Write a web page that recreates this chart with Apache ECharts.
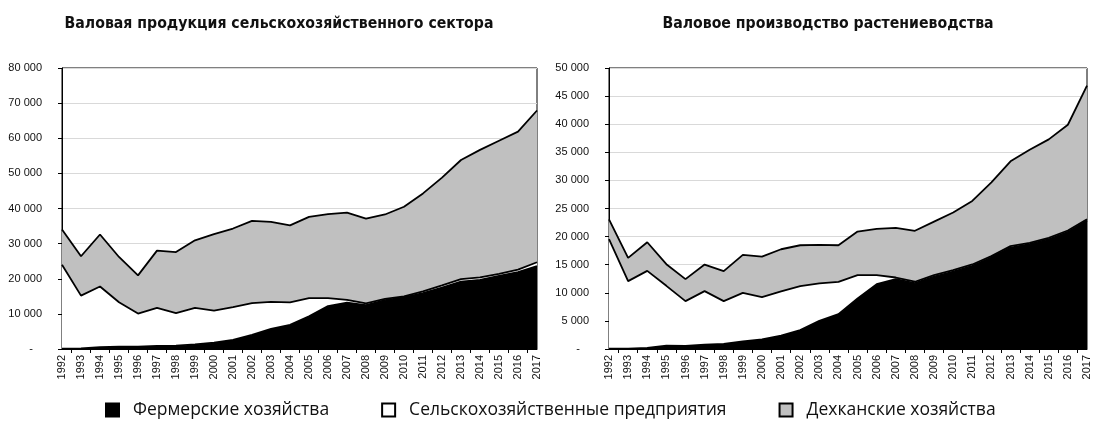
<!DOCTYPE html>
<html>
<head>
<meta charset="utf-8">
<script src="https://cdn.jsdelivr.net/npm/echarts@6/dist/echarts.min.js"></script>
<style>
  html, body { margin: 0; padding: 0; background: #fff; }
  #chart { width: 1093px; height: 421px; }
</style>
</head>
<body>
<div id="chart"></div>
<script>
// годы
var years = ['1992','1993','1994','1995','1996','1997','1998','1999','2000','2001','2002','2003','2004',
  '2005','2006','2007','2008','2009','2010','2011','2012','2013','2014','2015','2016','2017'];

// Валовая продукция сельскохозяйственного сектора
var farmAll = [100,200,500,700,700,900,950,1300,1800,2600,4000,5700,6900,9300,12200,13200,12500,13900,14700,15900,17500,19200,19700,20800,21900,23600];
var entAll = [23900,15000,17300,12600,9400,10800,9250,10400,9150,9300,9050,7700,6350,5200,2300,800,500,400,300,500,600,700,700,600,700,1100];
var dehAll = [10000,11200,14800,12900,10850,16300,17400,19250,21750,22400,23450,22800,21950,23100,23900,24800,24100,24000,25500,27900,30700,33900,36300,37900,39300,43200];

// Валовое производство растениеводства
var farmCrop = [60,60,180,590,530,770,890,1360,1720,2370,3370,5030,6200,9000,11540,12430,11720,12900,13790,14790,16270,18050,18640,19530,20830,22840];
var entCrop = [19470,12010,13720,10650,7990,9530,7630,8640,7510,7870,7810,6630,5750,4140,1600,290,250,250,250,250,250,250,250,250,250,260];
var dehCrop = [3550,4140,5100,3850,3910,4730,5330,6750,7220,7510,7280,6860,6510,7750,8220,8820,9060,9520,10240,11300,13140,15090,16560,17520,18820,23780];

var names = ['Фермерские хозяйства', 'Сельскохозяйственные предприятия', 'Дехканские хозяйства'];
var fills = ['#000000', '#ffffff', '#c0c0c0'];

// вспомогательные позиции для делений между годами
var halfYears = [];
years.forEach(function (y, i) {
  halfYears.push(y);
  if (i < years.length - 1) halfYears.push(y + '+');
});

var font = 'Liberation Sans, Arial, sans-serif';

function fmt(v) {
  if (v === 0) return '-   ';
  return String(v).replace(/\B(?=(\d{3})+(?!\d))/g, ' ');
}

function yAxis(grid, max, step) {
  return {
    type: 'value', gridIndex: grid, min: 0, max: max, interval: step,
    axisLine: { show: true, lineStyle: { color: '#000', width: 1 } },
    axisTick: { show: true, length: 4, lineStyle: { color: '#000' } },
    axisLabel: { formatter: fmt, color: '#111', fontFamily: font, fontSize: 11, margin: 20 },
    splitLine: { lineStyle: { color: '#d9d9d9', width: 1 } }
  };
}

function xAxes(grid) {
  return [{
    type: 'category', gridIndex: grid, data: years, boundaryGap: false,
    axisLine: { lineStyle: { color: '#000', width: 1 } },
    axisTick: { show: false },
    axisLabel: { rotate: 90, interval: 0, color: '#111', fontFamily: font, fontSize: 11, margin: 6 }
  }, {
    type: 'category', gridIndex: grid, data: halfYears, boundaryGap: false, position: 'bottom',
    axisLine: { show: false },
    axisLabel: { show: false },
    axisTick: { show: true, length: 4, interval: function (i) { return i % 2 === 1; }, lineStyle: { color: '#000' } }
  }];
}

function mkSeries(data, xi, yi, stack) {
  return data.map(function (d, k) {
    return {
      name: names[k], type: 'line', stack: stack, data: d,
      xAxisIndex: xi, yAxisIndex: yi,
      symbol: 'none', smooth: false,
      lineStyle: { color: '#000', width: 1.8 },
      itemStyle: { color: fills[k], borderColor: '#000', borderWidth: 1 },
      areaStyle: { color: fills[k], opacity: 1 }
    };
  });
}

var titleStyle = { fontFamily: 'DejaVu Sans Condensed, sans-serif', fontWeight: 'bold', fontSize: 15.7, color: '#111' };

var myChart = echarts.init(document.getElementById('chart'));
myChart.setOption({
  animation: false,
  backgroundColor: '#fff',
  title: [
    { text: 'Валовая продукция сельскохозяйственного сектора', left: 274, top: 11, textAlign: 'center', textStyle: titleStyle },
    { text: 'Валовое производство растениеводства', left: 823, top: 11, textAlign: 'center', textStyle: titleStyle }
  ],
  legend: {
    data: names, top: 401, left: 105, itemGap: 52, padding: 0,
    icon: 'rect', itemWidth: 13, itemHeight: 13,
    textStyle: { fontFamily: 'Open Sans, sans-serif', fontSize: 17.5, color: '#111', padding: [0, 0, 0, 9] }
  },
  grid: [
    { left: 62, right: 556, top: 68, bottom: 72, show: true, borderColor: '#000', borderWidth: 1 },
    { left: 609, right: 6, top: 68, bottom: 72, show: true, borderColor: '#000', borderWidth: 1 }
  ],
  xAxis: xAxes(0).concat(xAxes(1)),
  yAxis: [yAxis(0, 80000, 10000), yAxis(1, 50000, 5000)],
  series: mkSeries([farmAll, entAll, dehAll], 0, 0, 'all')
    .concat(mkSeries([farmCrop, entCrop, dehCrop], 2, 1, 'crop'))
});
window.addEventListener('resize', function () { myChart.resize(); });
</script>
</body>
</html>
